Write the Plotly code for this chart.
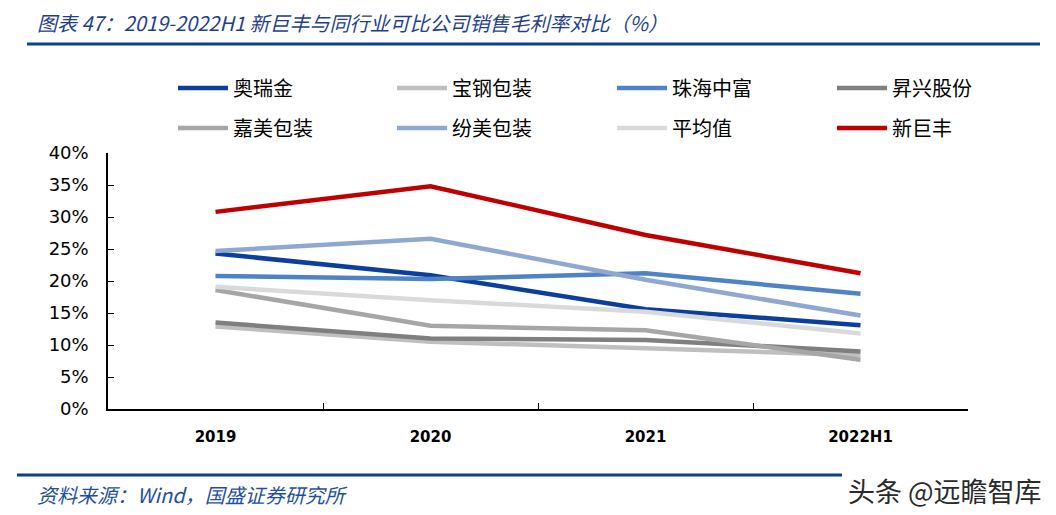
import plotly.graph_objects as go

categories = ["2019", "2020", "2021", "2022H1"]
names = ["奥瑞金", "宝钢包装", "珠海中富", "昇兴股份", "嘉美包装", "纷美包装", "平均值", "新巨丰"]
aoruijin = [0.243, 0.209, 0.156, 0.131]
baogang = [0.129, 0.105, 0.095, 0.084]
zhuhai = [0.208, 0.203, 0.212, 0.180]
shengxing = [0.135, 0.110, 0.108, 0.090]
jiamei = [0.186, 0.130, 0.123, 0.077]
fenmei = [0.247, 0.266, 0.202, 0.146]
average = [0.191, 0.170, 0.152, 0.118]
xinjufeng = [0.308, 0.348, 0.272, 0.212]
series = [aoruijin, baogang, zhuhai, shengxing, jiamei, fenmei, average, xinjufeng]
colors = ["#0B3F9B", "#BFBFBF", "#4F83C6", "#7F7F7F", "#A6A6A6", "#8EA8D2", "#D9D9D9", "#C00000"]
yticks = [0, 0.05, 0.10, 0.15, 0.20, 0.25, 0.30, 0.35, 0.40]

OFF = 8  # page body margin
L, R, T, B = 108 - OFF, 968 - OFF, 153 - OFF, 409 - OFF
W, H = R - L, B - T


def px(x):
    return (x - OFF - L) / W


def py(y):
    return (B - (y - OFF)) / H


fig = go.Figure()
legend_layout = {}
col_x = [173, 392, 612, 832]
row_y = [88, 128]
for i, (n, s, c) in enumerate(zip(names, series, colors)):
    key = "legend" if i == 0 else f"legend{i + 1}"
    fig.add_trace(go.Scatter(
        x=categories, y=s, name=n, mode="lines",
        line=dict(color=c, width=4.5),
        legend=key,
    ))
    legend_layout[key] = dict(
        orientation="h", xanchor="left", yanchor="middle",
        xref="paper", yref="paper",
        x=px(col_x[i % 4]), y=py(row_y[i // 4]),
        font=dict(family="Noto Sans CJK SC", size=20, color="#000"),
        bgcolor="rgba(0,0,0,0)", itemwidth=50,
    )

fig.update_layout(
    width=1056, height=515,
    margin=dict(l=L, r=1056 - R, t=T, b=515 - B, autoexpand=False),
    plot_bgcolor="white", paper_bgcolor="white",
    showlegend=True,
    **legend_layout,
    xaxis=dict(
        type="category", showline=True, linecolor="#000", linewidth=1.5,
        ticks="inside", ticklen=6, tickcolor="#000", tickson="boundaries",
        showgrid=False, range=[-0.5, 3.5],
        tickfont=dict(family="DejaVu Sans", size=15, color="#000", weight="bold"),
        ticklabelstandoff=13,
    ),
    yaxis=dict(
        range=[0, 0.40], tickvals=yticks, tickformat=".0%",
        showline=True, linecolor="#000", linewidth=1.5,
        ticks="inside", ticklen=6, tickcolor="#000",
        showgrid=False, zeroline=False,
        tickfont=dict(family="DejaVu Sans", size=18, color="#000"),
        ticklabelstandoff=14,
    ),
    shapes=[
        dict(type="line", xref="paper", yref="paper", x0=px(27), x1=px(1040),
             y0=py(44), y1=py(44), line=dict(color="#0B3F91", width=3)),
        dict(type="line", xref="paper", yref="paper", x0=px(17), x1=px(842),
             y0=py(475), y1=py(475), line=dict(color="#0B3F91", width=3)),
    ],
    annotations=[
        dict(text="<i>图表 47：2019-2022H1 新巨丰与同行业可比公司销售毛利率对比（%）</i>",
             xref="paper", yref="paper", x=px(35), y=py(22),
             xanchor="left", yanchor="middle", showarrow=False,
             font=dict(family="Noto Sans CJK SC", size=20, color="#1F3F8C")),
        dict(text="<i>资料来源：Wind，国盛证券研究所</i>",
             xref="paper", yref="paper", x=px(35), y=py(494),
             xanchor="left", yanchor="middle", showarrow=False,
             font=dict(family="Noto Sans CJK SC", size=20, color="#1F4FA0")),
        dict(text="头条 @远瞻智库",
             xref="paper", yref="paper", x=px(1044), y=py(490),
             xanchor="right", yanchor="middle", showarrow=False,
             font=dict(family="Noto Sans CJK SC", size=27, color="#2a2a2a")),
    ],
)

fig.write_html("out.html")
